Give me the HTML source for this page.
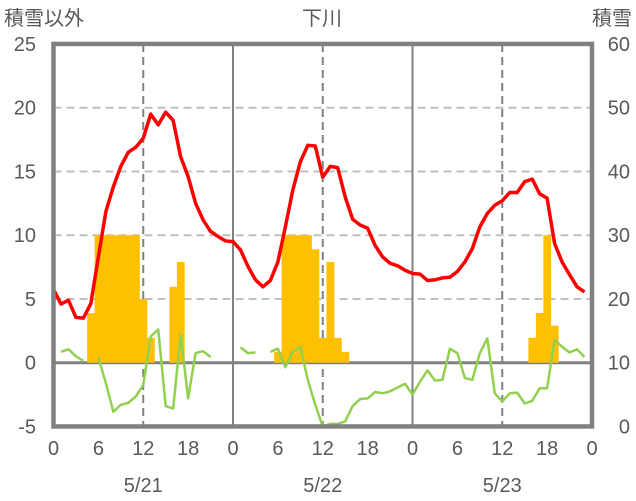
<!DOCTYPE html>
<html><head><meta charset="utf-8"><style>
html,body{margin:0;padding:0;background:#fff;}
svg{display:block;font-family:"Liberation Sans","Noto Sans CJK JP",sans-serif;}
</style></head><body>
<svg id="chart" width="636" height="501" viewBox="0 0 636 501">
<g id="grid"></g>
<g id="bars"></g>
<g id="lines"></g>
<g id="frame"></g>
<g id="labels" fill="#595959" font-size="20"></g>
<text x="4" y="25" font-size="20" fill="#595959">積雪以外</text>
<text x="322" y="25" font-size="20" fill="#595959" text-anchor="middle">下川</text>
<text x="632" y="25" font-size="20" fill="#595959" text-anchor="end">積雪</text>
</svg>
<script>
const leftTicks=[25,20,15,10,5,0,-5];
const rightTicks=[60,50,40,30,20,10,0];
const hourTicks=[0,6,12,18];
const dates=["5/21","5/22","5/23"];
// hourly temperature (red), hour index 0..71
const temperature=[5.75,4.6,4.9,3.55,3.5,4.65,8.3,11.85,13.8,15.4,16.5,16.9,17.6,19.5,18.65,19.65,19.0,16.15,14.6,12.5,11.2,10.3,9.9,9.55,
9.5,8.85,7.55,6.5,5.95,6.45,7.9,10.65,13.55,15.75,17.05,17.0,14.55,15.4,15.3,13.0,11.25,10.8,10.55,9.2,8.3,7.8,7.6,7.25,
7.0,6.95,6.45,6.5,6.65,6.7,7.15,7.9,8.95,10.65,11.7,12.35,12.7,13.35,13.35,14.2,14.4,13.25,12.9,9.35,7.9,6.9,5.95,5.55];
// green series (null = gap)
const other=[null,0.85,1.05,0.5,0.15,null,0.4,-1.6,-3.85,-3.3,-3.15,-2.65,-1.75,2.05,2.6,-3.4,-3.6,2.2,-2.8,0.75,0.9,0.45,null,null,
null,1.2,0.75,0.8,null,0.85,1.1,-0.35,0.85,1.25,-1.35,-3.3,-5.0,-4.8,-4.8,-4.6,-3.4,-2.85,-2.8,-2.3,-2.4,-2.25,-1.95,-1.65,
-2.5,-1.5,-0.6,-1.4,-1.35,1.1,0.75,-1.2,-1.35,0.75,1.9,-2.4,-3.05,-2.4,-2.35,-3.2,-3.0,-2.0,-2.0,1.8,1.25,0.8,1.05,0.45];
// snow bars (left-axis units)
const snow=[0,0,0,0,0,3.9,10,10,10,10,10,10,5.0,1.95,0,0,5.95,7.9,0,0,0,0,0,0,
0,0,0,0,0,0,0.85,10,10,10,10,8.9,1.95,7.9,1.95,0.85,0,0,0,0,0,0,0,0,
0,0,0,0,0,0,0,0,0,0,0,0,0,0,0,0,1.95,3.9,10,2.9,0,0,0,0];

const X0=53.5,HOUR=179.5/24,Y0=362.7,UNIT=12.75;
const xs=h=>X0+h*HOUR;
const ys=v=>Y0-v*UNIT;
const NS="http://www.w3.org/2000/svg";
function mk(tag,parent,attrs){const e=document.createElementNS(NS,tag);for(const k in attrs)e.setAttribute(k,attrs[k]);parent.appendChild(e);return e;}
const grid=document.getElementById('grid'),bars=document.getElementById('bars'),lines=document.getElementById('lines'),frame=document.getElementById('frame'),labels=document.getElementById('labels');
const XR=xs(72);
// horizontal gridlines
leftTicks.forEach(v=>{
  if(v===25||v===-5)return;
  const l=mk('line',grid,{x1:X0,x2:XR,y1:ys(v),y2:ys(v),stroke:v===0?'#808080':'#bfbfbf','stroke-width':v===0?3:2,'stroke-dasharray':v===0?'none':'8,5'});
  
  
});
// vertical lines
for(let d=0;d<3;d++){
  const l=mk('line',grid,{x1:xs(d*24+12),x2:xs(d*24+12),y1:ys(25),y2:ys(-5),stroke:'#808080','stroke-width':2,'stroke-dasharray':'8,5'});
  
  
  if(d>0){
    const s=mk('line',grid,{x1:xs(d*24),x2:xs(d*24),y1:ys(25),y2:ys(-5),stroke:'#808080','stroke-width':2});
    
    
  }
}
// bars
snow.forEach((v,i)=>{
  if(!v)return;
  const r=mk('rect',bars,{x:xs(i)-HOUR/2,y:ys(v),width:HOUR+0.3,height:ys(0)-ys(v),fill:'#ffc000'});
  
  
});
// temperature line
const tp=mk('polyline',lines,{points:temperature.map((v,i)=>xs(i)+','+ys(v)).join(' '),fill:'none',stroke:'#ff0000','stroke-width':3.5,'stroke-linejoin':'round'});


// other line with gaps
let seg=[];
const flush=()=>{if(seg.length>1){const p=mk('polyline',lines,{points:seg.join(' '),fill:'none',stroke:'#92d050','stroke-width':2.5,'stroke-linejoin':'round'});

}seg=[];};
other.forEach((v,i)=>{if(v===null)flush();else seg.push(xs(i)+','+ys(v));});flush();
// frame
const fr=mk('rect',frame,{x:X0,y:ys(25),width:XR-X0,height:ys(-5)-ys(25),fill:'none',stroke:'#808080','stroke-width':4.5});


// labels
leftTicks.forEach(v=>{const t=mk('text',labels,{x:36,y:ys(v)+7,'text-anchor':'end'});t.textContent=v;

});
rightTicks.forEach((v,i)=>{const t=mk('text',labels,{x:630,y:ys(leftTicks[i])+7,'text-anchor':'end'});t.textContent=v;

});
for(let d=0;d<3;d++){
  hourTicks.forEach(h=>{const t=mk('text',labels,{x:xs(d*24+h),y:455,'text-anchor':'middle'});t.textContent=h;
  
  });
  const t=mk('text',labels,{x:xs(d*24+12),y:492,'text-anchor':'middle'});t.textContent=dates[d];
  
  
}
const t=mk('text',labels,{x:xs(72),y:455,'text-anchor':'middle'});t.textContent=0;


</script>
</body></html>
